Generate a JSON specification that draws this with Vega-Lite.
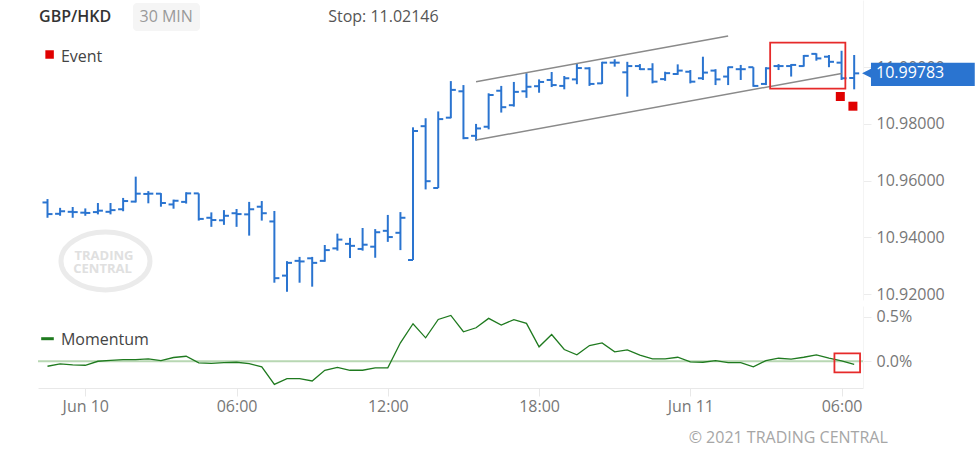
{
  "$schema": "https://vega.github.io/schema/vega-lite/v6.json",
  "background": "white",
  "padding": {"left": 37, "top": 0, "right": 0, "bottom": 14},
  "autosize": {"type": "pad"},
  "spacing": 3,
  "config": {
    "font": "Open Sans",
    "view": {"stroke": null},
    "axis": {"grid": false, "labelFont": "Open Sans", "labelFontSize": 16, "labelColor": "#777777", "tickColor": "#eaeaea", "domainColor": "#eeeeee"},
    "text": {"font": "Open Sans"}
  },
  "datasets": {
    "bars": [
      {"t":"2021-06-09T22:30:00Z","o":10.9523,"h":10.9535,"l":10.9469,"c":10.9482,"m":-0.056},
      {"t":"2021-06-09T23:00:00Z","o":10.9483,"h":10.9504,"l":10.9476,"c":10.9492,"m":-0.030},
      {"t":"2021-06-09T23:30:00Z","o":10.9490,"h":10.9507,"l":10.9469,"c":10.9489,"m":-0.041},
      {"t":"2021-06-10T00:00:00Z","o":10.9487,"h":10.9502,"l":10.9476,"c":10.9486,"m":-0.045},
      {"t":"2021-06-10T00:30:00Z","o":10.9489,"h":10.9521,"l":10.9481,"c":10.9494,"m":0.000},
      {"t":"2021-06-10T01:00:00Z","o":10.9490,"h":10.9521,"l":10.9481,"c":10.9496,"m":0.011},
      {"t":"2021-06-10T01:30:00Z","o":10.9499,"h":10.9539,"l":10.9492,"c":10.9528,"m":0.019},
      {"t":"2021-06-10T02:00:00Z","o":10.9526,"h":10.9614,"l":10.9523,"c":10.9554,"m":0.019},
      {"t":"2021-06-10T02:30:00Z","o":10.9553,"h":10.9563,"l":10.9520,"c":10.9554,"m":0.027},
      {"t":"2021-06-10T03:00:00Z","o":10.9554,"h":10.9556,"l":10.9508,"c":10.9521,"m":0.008},
      {"t":"2021-06-10T03:30:00Z","o":10.9516,"h":10.9533,"l":10.9501,"c":10.9529,"m":0.042},
      {"t":"2021-06-10T04:00:00Z","o":10.9525,"h":10.9559,"l":10.9519,"c":10.9555,"m":0.056},
      {"t":"2021-06-10T04:30:00Z","o":10.9555,"h":10.9555,"l":10.9459,"c":10.9465,"m":-0.018},
      {"t":"2021-06-10T05:00:00Z","o":10.9469,"h":10.9488,"l":10.9437,"c":10.9461,"m":-0.023},
      {"t":"2021-06-10T05:30:00Z","o":10.9460,"h":10.9496,"l":10.9444,"c":10.9476,"m":-0.015},
      {"t":"2021-06-10T06:00:00Z","o":10.9485,"h":10.9500,"l":10.9437,"c":10.9482,"m":-0.011},
      {"t":"2021-06-10T06:30:00Z","o":10.9481,"h":10.9525,"l":10.9406,"c":10.9499,"m":-0.026},
      {"t":"2021-06-10T07:00:00Z","o":10.9508,"h":10.9528,"l":10.9459,"c":10.9485,"m":-0.063},
      {"t":"2021-06-10T07:30:00Z","o":10.9456,"h":10.9493,"l":10.9240,"c":10.9256,"m":-0.259},
      {"t":"2021-06-10T08:00:00Z","o":10.9265,"h":10.9316,"l":10.9208,"c":10.9310,"m":-0.195},
      {"t":"2021-06-10T08:30:00Z","o":10.9317,"h":10.9331,"l":10.9240,"c":10.9315,"m":-0.195},
      {"t":"2021-06-10T09:00:00Z","o":10.9326,"h":10.9331,"l":10.9226,"c":10.9310,"m":-0.221},
      {"t":"2021-06-10T09:30:00Z","o":10.9317,"h":10.9373,"l":10.9314,"c":10.9355,"m":-0.101},
      {"t":"2021-06-10T10:00:00Z","o":10.9361,"h":10.9413,"l":10.9353,"c":10.9392,"m":-0.068},
      {"t":"2021-06-10T10:30:00Z","o":10.9377,"h":10.9398,"l":10.9327,"c":10.9370,"m":-0.101},
      {"t":"2021-06-10T11:00:00Z","o":10.9359,"h":10.9433,"l":10.9353,"c":10.9374,"m":-0.101},
      {"t":"2021-06-10T11:30:00Z","o":10.9367,"h":10.9429,"l":10.9328,"c":10.9418,"m":-0.074},
      {"t":"2021-06-10T12:00:00Z","o":10.9423,"h":10.9479,"l":10.9384,"c":10.9401,"m":-0.074},
      {"t":"2021-06-10T12:30:00Z","o":10.9416,"h":10.9489,"l":10.9355,"c":10.9469,"m":0.207},
      {"t":"2021-06-10T13:00:00Z","o":10.9320,"h":10.9788,"l":10.9320,"c":10.9775,"m":0.421},
      {"t":"2021-06-10T13:30:00Z","o":10.9792,"h":10.9820,"l":10.9569,"c":10.9598,"m":0.263},
      {"t":"2021-06-10T14:00:00Z","o":10.9574,"h":10.9844,"l":10.9574,"c":10.9817,"m":0.469},
      {"t":"2021-06-10T14:30:00Z","o":10.9822,"h":10.9951,"l":10.9820,"c":10.9920,"m":0.514},
      {"t":"2021-06-10T15:00:00Z","o":10.9915,"h":10.9937,"l":10.9746,"c":10.9750,"m":0.331},
      {"t":"2021-06-10T15:30:00Z","o":10.9758,"h":10.9800,"l":10.9741,"c":10.9784,"m":0.376},
      {"t":"2021-06-10T16:00:00Z","o":10.9790,"h":10.9908,"l":10.9781,"c":10.9902,"m":0.481},
      {"t":"2021-06-10T16:30:00Z","o":10.9917,"h":10.9934,"l":10.9840,"c":10.9859,"m":0.406},
      {"t":"2021-06-10T17:00:00Z","o":10.9866,"h":10.9948,"l":10.9861,"c":10.9913,"m":0.467},
      {"t":"2021-06-10T17:30:00Z","o":10.9915,"h":10.9979,"l":10.9892,"c":10.9931,"m":0.425},
      {"t":"2021-06-10T18:00:00Z","o":10.9933,"h":10.9957,"l":10.9910,"c":10.9948,"m":0.162},
      {"t":"2021-06-10T18:30:00Z","o":10.9955,"h":10.9983,"l":10.9930,"c":10.9937,"m":0.300},
      {"t":"2021-06-10T19:00:00Z","o":10.9934,"h":10.9969,"l":10.9922,"c":10.9961,"m":0.132},
      {"t":"2021-06-10T19:30:00Z","o":10.9957,"h":11.0014,"l":10.9940,"c":10.9997,"m":0.072},
      {"t":"2021-06-10T20:00:00Z","o":10.9996,"h":11.0000,"l":10.9934,"c":10.9941,"m":0.176},
      {"t":"2021-06-10T20:30:00Z","o":10.9943,"h":11.0019,"l":10.9941,"c":11.0016,"m":0.206},
      {"t":"2021-06-10T21:00:00Z","o":11.0016,"h":11.0028,"l":11.0002,"c":11.0016,"m":0.106},
      {"t":"2021-06-10T21:30:00Z","o":10.9982,"h":11.0019,"l":10.9896,"c":11.0004,"m":0.128},
      {"t":"2021-06-10T22:00:00Z","o":11.0004,"h":11.0011,"l":10.9990,"c":10.9993,"m":0.068},
      {"t":"2021-06-10T22:30:00Z","o":10.9993,"h":11.0014,"l":10.9943,"c":10.9949,"m":0.027},
      {"t":"2021-06-10T23:00:00Z","o":10.9958,"h":10.9984,"l":10.9952,"c":10.9979,"m":0.027},
      {"t":"2021-06-10T23:30:00Z","o":10.9976,"h":11.0010,"l":10.9973,"c":10.9988,"m":0.045},
      {"t":"2021-06-11T00:00:00Z","o":10.9984,"h":10.9990,"l":10.9943,"c":10.9949,"m":-0.007},
      {"t":"2021-06-11T00:30:00Z","o":10.9961,"h":11.0037,"l":10.9955,"c":10.9981,"m":-0.011},
      {"t":"2021-06-11T01:00:00Z","o":10.9988,"h":10.9993,"l":10.9937,"c":10.9957,"m":0.008},
      {"t":"2021-06-11T01:30:00Z","o":10.9967,"h":11.0002,"l":10.9937,"c":11.0000,"m":-0.015},
      {"t":"2021-06-11T02:00:00Z","o":10.9993,"h":11.0008,"l":10.9955,"c":10.9993,"m":-0.015},
      {"t":"2021-06-11T02:30:00Z","o":11.0000,"h":11.0000,"l":10.9931,"c":10.9934,"m":-0.063},
      {"t":"2021-06-11T03:00:00Z","o":10.9941,"h":11.0000,"l":10.9937,"c":10.9996,"m":0.008},
      {"t":"2021-06-11T03:30:00Z","o":11.0004,"h":11.0011,"l":10.9990,"c":11.0004,"m":0.034},
      {"t":"2021-06-11T04:00:00Z","o":11.0004,"h":11.0011,"l":10.9967,"c":11.0008,"m":0.023},
      {"t":"2021-06-11T04:30:00Z","o":11.0004,"h":11.0043,"l":11.0002,"c":11.0040,"m":0.045},
      {"t":"2021-06-11T05:00:00Z","o":11.0047,"h":11.0049,"l":11.0023,"c":11.0031,"m":0.072},
      {"t":"2021-06-11T05:30:00Z","o":11.0037,"h":11.0043,"l":11.0000,"c":11.0019,"m":0.034},
      {"t":"2021-06-11T06:00:00Z","o":11.0016,"h":11.0058,"l":10.9955,"c":10.9961,"m":0.005},
      {"t":"2021-06-11T06:30:00Z","o":10.9962,"h":11.0043,"l":10.9922,"c":10.99783,"m":-0.034}
    ],
    "channel": [
      {"line":"upper","t":"2021-06-10T15:30:00Z","p":10.99489},
      {"line":"upper","t":"2021-06-11T01:30:00Z","p":11.0110},
      {"line":"lower","t":"2021-06-10T15:30:00Z","p":10.97432},
      {"line":"lower","t":"2021-06-11T06:00:00Z","p":10.99780}
    ],
    "events": [
      {"t":"2021-06-11T05:57:00Z","p":10.98967},
      {"t":"2021-06-11T06:27:00Z","p":10.98625}
    ]
  },
  "vconcat": [
    {
      "width": 825,
      "height": 300,
      "layer": [
        {
          "data": {"name": "bars"},
          "mark": {"type": "rule", "color": "#2a74d0", "strokeWidth": 2},
          "encoding": {
            "x": {"field": "t", "type": "temporal", "axis": null,
                  "scale": {"type": "utc", "nice": false, "domain": [{"year":2021,"month":6,"date":9,"hours":22,"minutes":7,"seconds":24,"utc":true},{"year":2021,"month":6,"date":11,"hours":6,"minutes":51,"utc":true}]}},
            "y": {"field": "l", "type": "quantitative",
                  "scale": {"domain": [10.9179, 11.0237], "nice": false, "zero": false},
                  "axis": {"orient": "right", "title": null, "values": [10.92, 10.94, 10.96, 10.98, 11.0], "format": ".5f", "tickSize": 8, "labelPadding": 5, "domainColor": "#f4f4f4", "tickColor": "#ececec"}},
            "y2": {"field": "h"}
          }
        },
        {
          "data": {"values": [{}]},
          "mark": {"type": "point", "shape": "M-1,0A1,0.65,0,1,1,1,0A1,0.65,0,1,1,-1,0Z", "size": 7921, "filled": false, "stroke": "#ebebeb", "strokeWidth": 5, "opacity": 1},
          "encoding": {
            "x": {"datum": {"year":2021,"month":6,"date":10,"hours":0,"minutes":48,"utc":true}, "type": "temporal", "axis": null},
            "y": {"datum": 10.93165, "type": "quantitative", "axis": {"title": null}}
          }
        },
        {
          "data": {"values": [{}]},
          "mark": {"type": "text", "text": "TRADING", "fontSize": 13, "fontWeight": "bold", "fill": "#e0e0e0", "align": "center", "baseline": "middle"},
          "encoding": {
            "x": {"datum": {"year":2021,"month":6,"date":10,"hours":0,"minutes":44,"seconds":30,"utc":true}, "type": "temporal", "axis": null},
            "y": {"datum": 10.93340, "type": "quantitative", "axis": {"title": null}}
          }
        },
        {
          "data": {"values": [{}]},
          "mark": {"type": "text", "text": "CENTRAL", "fontSize": 13, "fontWeight": "bold", "fill": "#e0e0e0", "align": "center", "baseline": "middle"},
          "encoding": {
            "x": {"datum": {"year":2021,"month":6,"date":10,"hours":0,"minutes":41,"utc":true}, "type": "temporal", "axis": null},
            "y": {"datum": 10.92890, "type": "quantitative", "axis": {"title": null}}
          }
        },
        {
          "data": {"values": [{}]},
          "mark": {"type": "rect", "fill": "#f5f5f5", "cornerRadius": 4},
          "encoding": {
            "x": {"datum": {"year":2021,"month":6,"date":10,"hours":1,"minutes":53,"seconds":30,"utc":true}, "type": "temporal", "axis": null},
            "x2": {"datum": {"year":2021,"month":6,"date":10,"hours":4,"minutes":33,"utc":true}},
            "y": {"datum": 11.02264, "type": "quantitative", "axis": {"title": null}},
            "y2": {"datum": 11.01277}
          }
        },
        {
          "data": {"values": [{}]},
          "mark": {"type": "text", "text": "GBP/HKD", "fontSize": 16, "fontWeight": 600, "fill": "#333333", "align": "left", "baseline": "middle"},
          "encoding": {
            "x": {"datum": {"year":2021,"month":6,"date":9,"hours":22,"minutes":10,"utc":true}, "type": "temporal", "axis": null},
            "y": {"datum": 11.01753, "type": "quantitative", "axis": {"title": null}}
          }
        },
        {
          "data": {"values": [{}]},
          "mark": {"type": "text", "text": "30 MIN", "fontSize": 16, "fill": "#9a9a9a", "align": "center", "baseline": "middle"},
          "encoding": {
            "x": {"datum": {"year":2021,"month":6,"date":10,"hours":3,"minutes":12,"seconds":30,"utc":true}, "type": "temporal", "axis": null},
            "y": {"datum": 11.01753, "type": "quantitative", "axis": {"title": null}}
          }
        },
        {
          "data": {"values": [{}]},
          "mark": {"type": "text", "text": "Stop: 11.02146", "fontSize": 16, "fill": "#555555", "align": "left", "baseline": "middle"},
          "encoding": {
            "x": {"datum": {"year":2021,"month":6,"date":10,"hours":9,"minutes":38,"utc":true}, "type": "temporal", "axis": null},
            "y": {"datum": 11.01753, "type": "quantitative", "axis": {"title": null}}
          }
        },
        {
          "data": {"values": [{}]},
          "mark": {"type": "point", "shape": "square", "size": 72, "filled": true, "fill": "#e00000", "opacity": 1},
          "encoding": {
            "x": {"datum": {"year":2021,"month":6,"date":9,"hours":22,"minutes":35,"utc":true}, "type": "temporal", "axis": null},
            "y": {"datum": 11.00448, "type": "quantitative", "axis": {"title": null}}
          }
        },
        {
          "data": {"values": [{}]},
          "mark": {"type": "text", "text": "Event", "fontSize": 16, "fill": "#444444", "align": "left", "baseline": "middle"},
          "encoding": {
            "x": {"datum": {"year":2021,"month":6,"date":9,"hours":23,"minutes":2,"utc":true}, "type": "temporal", "axis": null},
            "y": {"datum": 11.00377, "type": "quantitative", "axis": {"title": null}}
          }
        },
        {
          "data": {"name": "channel"},
          "mark": {"type": "line", "color": "#8a8a8a", "strokeWidth": 1.5},
          "encoding": {
            "x": {"field": "t", "type": "temporal", "axis": null},
            "y": {"field": "p", "type": "quantitative", "axis": {"title": null}},
            "detail": {"field": "line"}
          }
        },
        {
          "data": {"name": "bars"},
          "mark": {"type": "tick", "orient": "horizontal", "color": "#2a74d0", "size": 5, "thickness": 2, "xOffset": -2.5, "opacity": 1},
          "encoding": {
            "x": {"field": "t", "type": "temporal", "axis": null},
            "y": {"field": "o", "type": "quantitative", "axis": {"title": null}}
          }
        },
        {
          "data": {"name": "bars"},
          "mark": {"type": "tick", "orient": "horizontal", "color": "#2a74d0", "size": 5, "thickness": 2, "xOffset": 2.5, "opacity": 1},
          "encoding": {
            "x": {"field": "t", "type": "temporal", "axis": null},
            "y": {"field": "c", "type": "quantitative", "axis": {"title": null}}
          }
        },
        {
          "data": {"values": [{}]},
          "mark": {"type": "rect", "fillOpacity": 0, "stroke": "#e62a2a", "strokeWidth": 1.8},
          "encoding": {
            "x": {"datum": {"year":2021,"month":6,"date":11,"hours":3,"minutes":10,"utc":true}, "type": "temporal", "axis": null},
            "x2": {"datum": {"year":2021,"month":6,"date":11,"hours":6,"minutes":9,"utc":true}},
            "y": {"datum": 11.00864, "type": "quantitative", "axis": {"title": null}},
            "y2": {"datum": 10.99242}
          }
        },
        {
          "data": {"name": "events"},
          "mark": {"type": "point", "shape": "square", "size": 81, "filled": true, "fill": "#e00000", "opacity": 1},
          "encoding": {
            "x": {"field": "t", "type": "temporal", "axis": null},
            "y": {"field": "p", "type": "quantitative", "axis": {"title": null}}
          }
        },
        {
          "data": {"values": [{}]},
          "mark": {"type": "point", "shape": "M-1,0L1,-1L1,1Z", "size": 144, "filled": true, "fill": "#2a74d0", "opacity": 1},
          "encoding": {
            "x": {"datum": {"year":2021,"month":6,"date":11,"hours":7,"minutes":3,"utc":true}, "type": "temporal", "axis": null},
            "y": {"datum": 10.99783, "type": "quantitative", "axis": {"title": null}}
          }
        },
        {
          "data": {"values": [{}]},
          "mark": {"type": "rect", "fill": "#2a74d0"},
          "encoding": {
            "x": {"datum": {"year":2021,"month":6,"date":11,"hours":7,"minutes":10,"utc":true}, "type": "temporal", "axis": null},
            "x2": {"datum": {"year":2021,"month":6,"date":11,"hours":11,"minutes":17,"utc":true}},
            "y": {"datum": 11.00159, "type": "quantitative", "axis": {"title": null}},
            "y2": {"datum": 10.99337}
          }
        },
        {
          "data": {"values": [{}]},
          "mark": {"type": "text", "text": "10.99783", "fontSize": 16, "fill": "#ffffff", "align": "left", "baseline": "middle"},
          "encoding": {
            "x": {"datum": {"year":2021,"month":6,"date":11,"hours":7,"minutes":22,"utc":true}, "type": "temporal", "axis": null},
            "y": {"datum": 10.99783, "type": "quantitative", "axis": {"title": null}}
          }
        }
      ]
    },
    {
      "width": 825,
      "height": 82,
      "layer": [
        {
          "data": {"values": [{}]},
          "mark": {"type": "rule", "color": "#b8d7b3", "strokeWidth": 2},
          "encoding": {
            "y": {"datum": 0, "type": "quantitative", "axis": {"title": null}}
          }
        },
        {
          "data": {"name": "bars"},
          "mark": {"type": "line", "color": "#1f7a1f", "strokeWidth": 1.3},
          "encoding": {
            "x": {"field": "t", "type": "temporal",
                  "scale": {"type": "utc", "nice": false, "domain": [{"year":2021,"month":6,"date":9,"hours":22,"minutes":7,"seconds":24,"utc":true},{"year":2021,"month":6,"date":11,"hours":6,"minutes":51,"utc":true}]},
                  "axis": {"title": null, "values": [
                    {"year":2021,"month":6,"date":10,"hours":0,"utc":true},
                    {"year":2021,"month":6,"date":10,"hours":6,"utc":true},
                    {"year":2021,"month":6,"date":10,"hours":12,"utc":true},
                    {"year":2021,"month":6,"date":10,"hours":18,"utc":true},
                    {"year":2021,"month":6,"date":11,"hours":0,"utc":true},
                    {"year":2021,"month":6,"date":11,"hours":6,"utc":true}],
                    "labelExpr": "utchours(datum.value) == 0 ? utcFormat(datum.value, '%b %d') : utcFormat(datum.value, '%H:%M')",
                    "tickSize": 8, "tickColor": "#e8e8e8", "domainColor": "#e8e8e8", "labelPadding": 2, "labelFlush": false, "labelOverlap": false}},
            "y": {"field": "m", "type": "quantitative",
                  "scale": {"domain": [-0.3, 0.62], "nice": false, "zero": false},
                  "axis": {"orient": "right", "title": null, "values": [0, 0.5], "labelExpr": "format(datum.value, '.1f') + '%'", "tickSize": 8, "labelPadding": 5, "domainColor": "#f4f4f4", "tickColor": "#ececec"}}
          }
        },
        {
          "data": {"values": [{}]},
          "mark": {"type": "rule", "color": "#1f7a1f", "strokeWidth": 3},
          "encoding": {
            "x": {"datum": {"year":2021,"month":6,"date":9,"hours":22,"minutes":15,"utc":true}, "type": "temporal", "axis": {"title": null}},
            "x2": {"datum": {"year":2021,"month":6,"date":9,"hours":22,"minutes":45,"utc":true}},
            "y": {"datum": 0.2531, "type": "quantitative", "axis": {"title": null}}
          }
        },
        {
          "data": {"values": [{}]},
          "mark": {"type": "text", "text": "Momentum", "fontSize": 16, "fill": "#444444", "align": "left", "baseline": "middle"},
          "encoding": {
            "x": {"datum": {"year":2021,"month":6,"date":9,"hours":23,"minutes":2,"utc":true}, "type": "temporal", "axis": {"title": null}},
            "y": {"datum": 0.2385, "type": "quantitative", "axis": {"title": null}}
          }
        },
        {
          "data": {"values": [{}]},
          "mark": {"type": "rect", "fillOpacity": 0, "stroke": "#e62a2a", "strokeWidth": 1.8},
          "encoding": {
            "x": {"datum": {"year":2021,"month":6,"date":11,"hours":5,"minutes":43,"utc":true}, "type": "temporal", "axis": {"title": null}},
            "x2": {"datum": {"year":2021,"month":6,"date":11,"hours":6,"minutes":44,"utc":true}},
            "y": {"datum": 0.0893, "type": "quantitative", "axis": {"title": null}},
            "y2": {"datum": -0.1239}
          }
        },
        {
          "data": {"values": [{}]},
          "mark": {"type": "text", "text": "© 2021 TRADING CENTRAL", "fontSize": 16, "fill": "#a6a6a6", "align": "left", "baseline": "middle"},
          "encoding": {
            "x": {"datum": {"year":2021,"month":6,"date":10,"hours":23,"minutes":56,"utc":true}, "type": "temporal", "axis": {"title": null}},
            "y": {"datum": -0.8577, "type": "quantitative", "axis": {"title": null}}
          }
        }
      ]
    }
  ]
}
